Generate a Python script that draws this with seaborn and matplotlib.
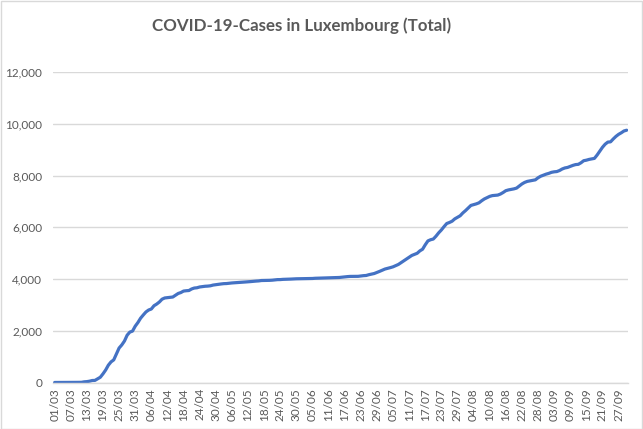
import matplotlib
matplotlib.use("Agg")
import matplotlib.pyplot as plt
import seaborn as sns
import pandas as pd
from matplotlib.patches import Rectangle
from matplotlib.ticker import FuncFormatter

# ---- data (cumulative cases, daily from 01/03) ----
cases_march = [1, 1, 1, 2, 2, 3, 4, 5, 5, 7, 7, 26, 34, 51, 77, 81, 140, 203, 335, 484,
               670, 798, 875, 1099, 1333, 1453, 1605, 1831, 1950, 1988, 2178]
cases_april = [2319, 2487, 2612, 2729, 2804, 2843, 2970, 3034, 3115, 3223, 3270, 3281, 3292,
               3307, 3373, 3444, 3480, 3537, 3550, 3558, 3618, 3654, 3665, 3695, 3711, 3723,
               3729, 3741, 3769, 3784]
cases_may = [3802, 3812, 3824, 3828, 3840, 3851, 3859, 3871, 3877, 3886, 3888, 3894, 3904,
             3915, 3923, 3930, 3945, 3947, 3948, 3952, 3958, 3971, 3980, 3981, 3990, 3993,
             3995, 4001, 4008, 4012, 4016]
cases_june = [4016, 4018, 4019, 4020, 4024, 4032, 4035, 4039, 4040, 4043, 4046, 4052, 4055,
              4055, 4063, 4075, 4085, 4096, 4104, 4104, 4104, 4107, 4120, 4133, 4140, 4170,
              4195, 4216, 4256, 4299]
cases_july = [4345, 4389, 4416, 4444, 4475, 4522, 4567, 4637, 4708, 4781, 4847, 4915, 4956,
              4999, 5092, 5155, 5327, 5478, 5523, 5550, 5660, 5790, 5900, 6030, 6150, 6190,
              6240, 6330, 6390, 6450, 6560]
cases_august = [6650, 6750, 6850, 6880, 6910, 6950, 7030, 7100, 7150, 7200, 7230, 7240, 7250,
                7290, 7350, 7420, 7450, 7470, 7490, 7520, 7600, 7680, 7740, 7780, 7800, 7820,
                7840, 7920, 7980, 8020, 8060]
cases_sept = [8090, 8130, 8150, 8160, 8200, 8260, 8300, 8320, 8360, 8400, 8430, 8440, 8500,
              8580, 8600, 8630, 8650, 8670, 8800, 8950, 9100, 9220, 9300, 9310, 9420, 9520,
              9600, 9660, 9730, 9760]

cases = (cases_march + cases_april + cases_may + cases_june + cases_july
         + cases_august + cases_sept)
dates = pd.date_range("2020-03-01", periods=len(cases), freq="D")
date_labels = [d.strftime("%d/%m") for d in dates]
y_ticks = [0, 2000, 4000, 6000, 8000, 10000, 12000]
title = "COVID-19-Cases in Luxembourg (Total)"

df = pd.DataFrame({"pos": range(len(cases)), "cases": cases, "label": date_labels})

# ---- style ----
sns.set_style("white")
plt.rcParams["font.family"] = ["Lato", "DejaVu Sans"]
grey_text = "#595959"
grid_col = "#D9D9D9"

fig = plt.figure(figsize=(6.43, 4.29), dpi=100)
W, H = 643, 429
left_px, right_px, top_px, bottom_px = 53.3, 628.0, 72.3, 382.5
ax = fig.add_axes([left_px / W, (H - bottom_px) / H,
                   (right_px - left_px) / W, (bottom_px - top_px) / H])

sns.lineplot(data=df, x="pos", y="cases", ax=ax, color="#4472C4",
             linewidth=2.3, solid_capstyle="round", solid_joinstyle="round")

ax.set_xlim(-0.5, len(cases) - 0.5)
ax.set_ylim(y_ticks[0], y_ticks[-1])
ax.set_yticks(y_ticks)
ax.yaxis.set_major_formatter(FuncFormatter(lambda v, p: f"{int(v):,}"))
tick_pos = list(range(0, len(cases), 6))
ax.set_xticks(tick_pos)
ax.set_xticklabels([date_labels[i] for i in tick_pos], rotation=90)

ax.grid(axis="y", color=grid_col, linewidth=1.0)
ax.set_axisbelow(True)
for s in ["top", "right", "left"]:
    ax.spines[s].set_visible(False)
ax.spines["bottom"].set_color(grid_col)
ax.spines["bottom"].set_linewidth(1.0)
ax.tick_params(axis="both", length=0, colors=grey_text, labelsize=8.5)
ax.tick_params(axis="y", pad=8)
ax.tick_params(axis="x", pad=4)
ax.set_xlabel("")
ax.set_ylabel("")

fig.text(302 / W, 1 - 26 / H, title, ha="center", va="center",
         fontsize=12.2, fontweight="bold", color=grey_text)

fig.patches.append(Rectangle((0.5 / W, 0.5 / H), 1 - 1.5 / W, 1 - 1.5 / H,
                             transform=fig.transFigure, fill=False,
                             edgecolor=grid_col, linewidth=1.0))

fig.savefig("out.png", dpi=100)
